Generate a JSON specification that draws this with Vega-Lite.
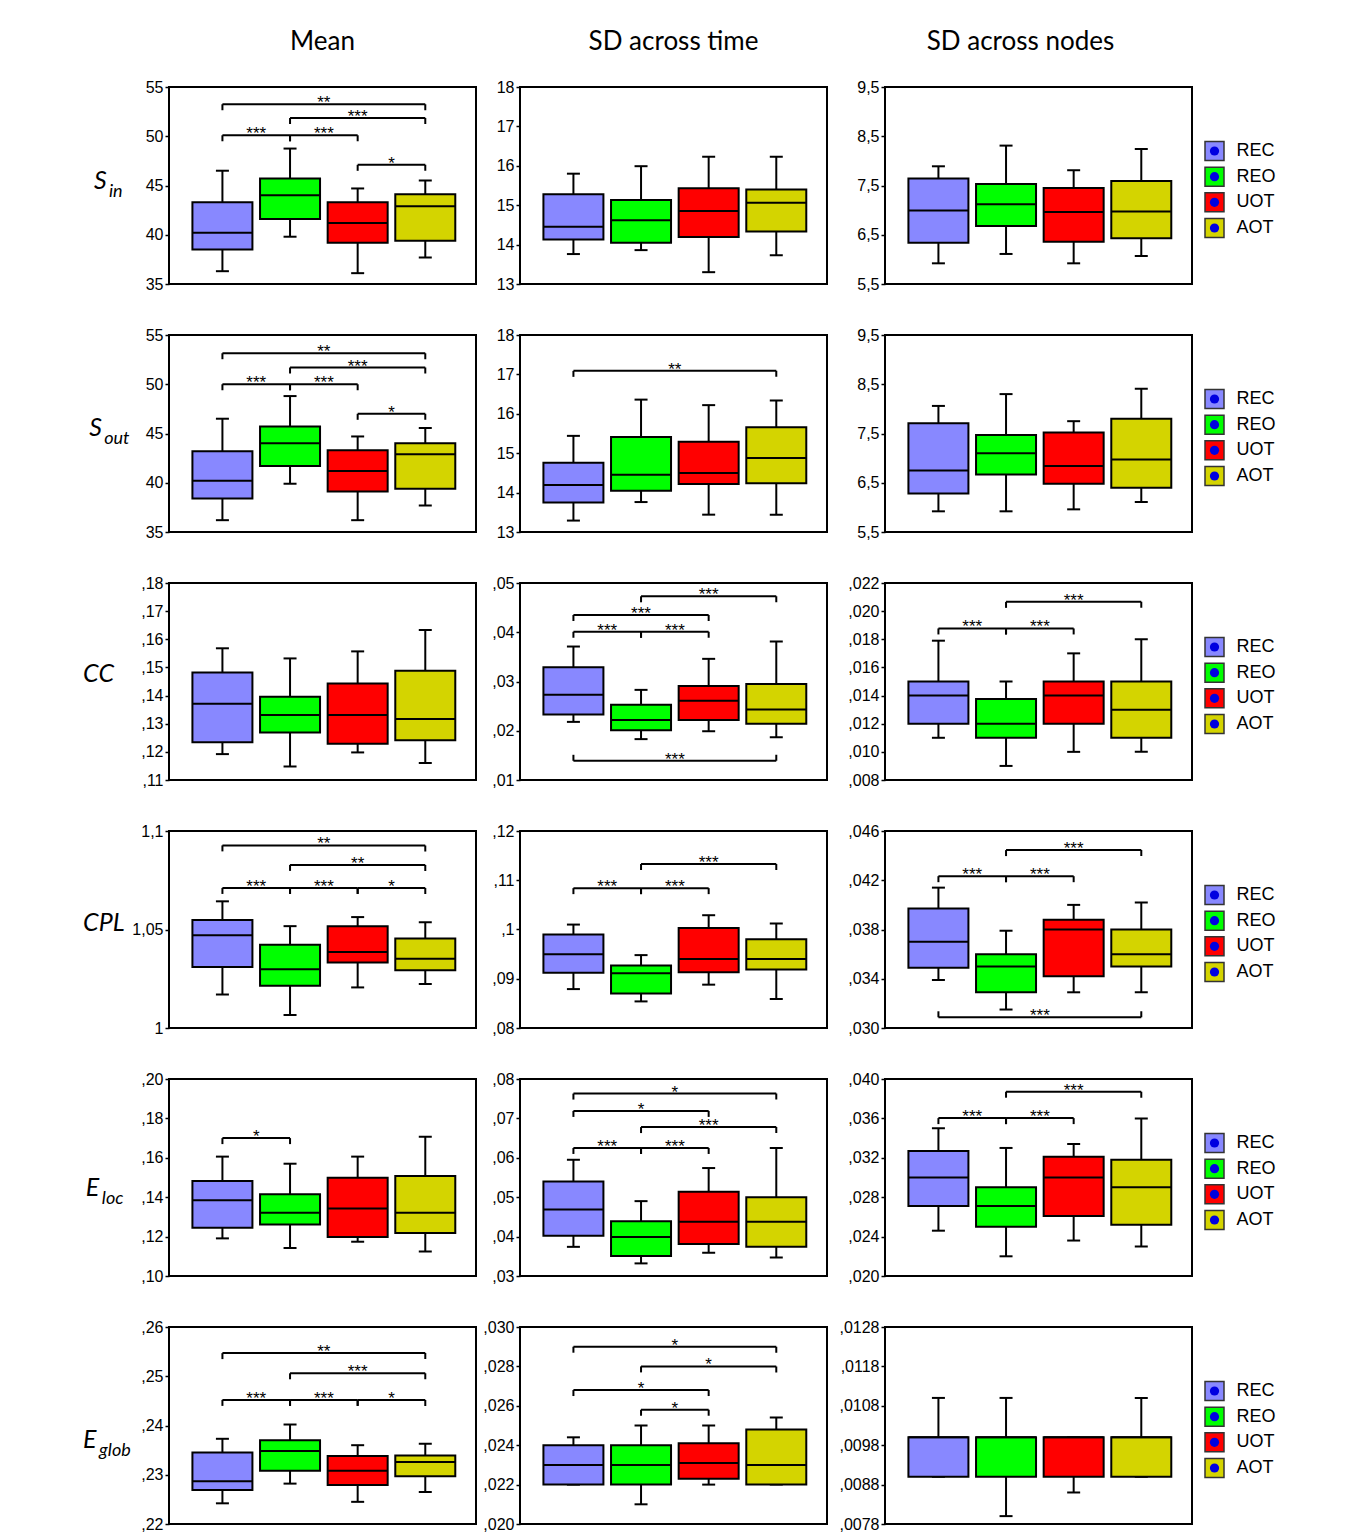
{
  "$schema": "https://vega.github.io/schema/vega-lite/v6.json",
  "background": "white",
  "padding": {"left": 82, "top": 28, "right": 5, "bottom": 5},
  "datasets": {
    "boxes": [
      {"p":"A1","g":"REC","i":1,"lo":36.3,"q1":38.5,"md":40.2,"q3":43.3,"hi":46.5},
      {"p":"A1","g":"REO","i":2,"lo":39.8,"q1":41.6,"md":44.0,"q3":45.7,"hi":48.75},
      {"p":"A1","g":"UOT","i":3,"lo":36.1,"q1":39.2,"md":41.2,"q3":43.3,"hi":44.7},
      {"p":"A1","g":"AOT","i":4,"lo":37.7,"q1":39.4,"md":42.9,"q3":44.1,"hi":45.5},
      {"p":"A2","g":"REC","i":1,"lo":13.76,"q1":14.13,"md":14.45,"q3":15.28,"hi":15.8},
      {"p":"A2","g":"REO","i":2,"lo":13.86,"q1":14.05,"md":14.62,"q3":15.13,"hi":15.99},
      {"p":"A2","g":"UOT","i":3,"lo":13.3,"q1":14.19,"md":14.85,"q3":15.43,"hi":16.23},
      {"p":"A2","g":"AOT","i":4,"lo":13.73,"q1":14.33,"md":15.06,"q3":15.4,"hi":16.23},
      {"p":"A3","g":"REC","i":1,"lo":5.92,"q1":6.34,"md":6.99,"q3":7.64,"hi":7.89},
      {"p":"A3","g":"REO","i":2,"lo":6.11,"q1":6.68,"md":7.12,"q3":7.53,"hi":8.31},
      {"p":"A3","g":"UOT","i":3,"lo":5.92,"q1":6.36,"md":6.96,"q3":7.45,"hi":7.81},
      {"p":"A3","g":"AOT","i":4,"lo":6.07,"q1":6.43,"md":6.97,"q3":7.59,"hi":8.24},
      {"p":"B1","g":"REC","i":1,"lo":36.2,"q1":38.4,"md":40.2,"q3":43.2,"hi":46.5},
      {"p":"B1","g":"REO","i":2,"lo":39.9,"q1":41.7,"md":44.0,"q3":45.7,"hi":48.8},
      {"p":"B1","g":"UOT","i":3,"lo":36.2,"q1":39.1,"md":41.2,"q3":43.3,"hi":44.7},
      {"p":"B1","g":"AOT","i":4,"lo":37.7,"q1":39.4,"md":42.9,"q3":44.0,"hi":45.55},
      {"p":"B2","g":"REC","i":1,"lo":13.29,"q1":13.75,"md":14.19,"q3":14.76,"hi":15.44},
      {"p":"B2","g":"REO","i":2,"lo":13.76,"q1":14.05,"md":14.45,"q3":15.41,"hi":16.36},
      {"p":"B2","g":"UOT","i":3,"lo":13.44,"q1":14.22,"md":14.5,"q3":15.29,"hi":16.22},
      {"p":"B2","g":"AOT","i":4,"lo":13.44,"q1":14.24,"md":14.88,"q3":15.66,"hi":16.34},
      {"p":"B3","g":"REC","i":1,"lo":5.92,"q1":6.28,"md":6.75,"q3":7.71,"hi":8.06},
      {"p":"B3","g":"REO","i":2,"lo":5.92,"q1":6.67,"md":7.1,"q3":7.47,"hi":8.3},
      {"p":"B3","g":"UOT","i":3,"lo":5.96,"q1":6.48,"md":6.84,"q3":7.52,"hi":7.75},
      {"p":"B3","g":"AOT","i":4,"lo":6.11,"q1":6.4,"md":6.97,"q3":7.8,"hi":8.41},
      {"p":"C1","g":"REC","i":1,"lo":0.1192,"q1":0.1234,"md":0.1371,"q3":0.1482,"hi":0.1568},
      {"p":"C1","g":"REO","i":2,"lo":0.1148,"q1":0.1269,"md":0.1331,"q3":0.1396,"hi":0.1532},
      {"p":"C1","g":"UOT","i":3,"lo":0.1198,"q1":0.1229,"md":0.1331,"q3":0.1443,"hi":0.1557},
      {"p":"C1","g":"AOT","i":4,"lo":0.116,"q1":0.1241,"md":0.1317,"q3":0.1488,"hi":0.1633},
      {"p":"C2","g":"REC","i":1,"lo":0.0218,"q1":0.0233,"md":0.0273,"q3":0.0329,"hi":0.0371},
      {"p":"C2","g":"REO","i":2,"lo":0.0183,"q1":0.0201,"md":0.0222,"q3":0.0253,"hi":0.0283},
      {"p":"C2","g":"UOT","i":3,"lo":0.0199,"q1":0.0222,"md":0.0261,"q3":0.0291,"hi":0.0346},
      {"p":"C2","g":"AOT","i":4,"lo":0.0187,"q1":0.0214,"md":0.0243,"q3":0.0295,"hi":0.0381},
      {"p":"C3","g":"REC","i":1,"lo":0.011,"q1":0.012,"md":0.014,"q3":0.015,"hi":0.0179},
      {"p":"C3","g":"REO","i":2,"lo":0.009,"q1":0.011,"md":0.012,"q3":0.01375,"hi":0.015},
      {"p":"C3","g":"UOT","i":3,"lo":0.010,"q1":0.012,"md":0.014,"q3":0.015,"hi":0.017},
      {"p":"C3","g":"AOT","i":4,"lo":0.010,"q1":0.011,"md":0.013,"q3":0.015,"hi":0.018},
      {"p":"D1","g":"REC","i":1,"lo":1.017,"q1":1.031,"md":1.0471,"q3":1.0548,"hi":1.0643},
      {"p":"D1","g":"REO","i":2,"lo":1.0066,"q1":1.0214,"md":1.0298,"q3":1.0422,"hi":1.0517},
      {"p":"D1","g":"UOT","i":3,"lo":1.0206,"q1":1.0333,"md":1.0386,"q3":1.0517,"hi":1.0563},
      {"p":"D1","g":"AOT","i":4,"lo":1.0223,"q1":1.0293,"md":1.0352,"q3":1.0454,"hi":1.0537},
      {"p":"D2","g":"REC","i":1,"lo":0.0879,"q1":0.0912,"md":0.095,"q3":0.099,"hi":0.101},
      {"p":"D2","g":"REO","i":2,"lo":0.0854,"q1":0.087,"md":0.0911,"q3":0.0927,"hi":0.0948},
      {"p":"D2","g":"UOT","i":3,"lo":0.0888,"q1":0.0913,"md":0.094,"q3":0.1003,"hi":0.1029},
      {"p":"D2","g":"AOT","i":4,"lo":0.0859,"q1":0.0919,"md":0.094,"q3":0.098,"hi":0.1012},
      {"p":"D3","g":"REC","i":1,"lo":0.0339,"q1":0.0349,"md":0.037,"q3":0.0397,"hi":0.0414},
      {"p":"D3","g":"REO","i":2,"lo":0.0315,"q1":0.0329,"md":0.035,"q3":0.036,"hi":0.0379},
      {"p":"D3","g":"UOT","i":3,"lo":0.0329,"q1":0.0342,"md":0.038,"q3":0.0388,"hi":0.040},
      {"p":"D3","g":"AOT","i":4,"lo":0.0329,"q1":0.035,"md":0.036,"q3":0.038,"hi":0.0402},
      {"p":"E1","g":"REC","i":1,"lo":0.1191,"q1":0.1245,"md":0.1384,"q3":0.1482,"hi":0.1606},
      {"p":"E1","g":"REO","i":2,"lo":0.1142,"q1":0.1262,"md":0.1321,"q3":0.1415,"hi":0.157},
      {"p":"E1","g":"UOT","i":3,"lo":0.1174,"q1":0.1198,"md":0.1343,"q3":0.1499,"hi":0.1606},
      {"p":"E1","g":"AOT","i":4,"lo":0.1124,"q1":0.1218,"md":0.1321,"q3":0.1508,"hi":0.1707},
      {"p":"E2","g":"REC","i":1,"lo":0.0374,"q1":0.0402,"md":0.0469,"q3":0.054,"hi":0.0595},
      {"p":"E2","g":"REO","i":2,"lo":0.0332,"q1":0.0351,"md":0.0399,"q3":0.0439,"hi":0.049},
      {"p":"E2","g":"UOT","i":3,"lo":0.0359,"q1":0.0381,"md":0.0438,"q3":0.0514,"hi":0.0574},
      {"p":"E2","g":"AOT","i":4,"lo":0.0347,"q1":0.0374,"md":0.0438,"q3":0.050,"hi":0.0625},
      {"p":"E3","g":"REC","i":1,"lo":0.0246,"q1":0.0271,"md":0.030,"q3":0.0327,"hi":0.035},
      {"p":"E3","g":"REO","i":2,"lo":0.022,"q1":0.025,"md":0.0271,"q3":0.029,"hi":0.033},
      {"p":"E3","g":"UOT","i":3,"lo":0.0236,"q1":0.0261,"md":0.030,"q3":0.0321,"hi":0.0334},
      {"p":"E3","g":"AOT","i":4,"lo":0.023,"q1":0.0252,"md":0.029,"q3":0.0318,"hi":0.036},
      {"p":"F1","g":"REC","i":1,"lo":0.2242,"q1":0.2269,"md":0.2287,"q3":0.2345,"hi":0.2373},
      {"p":"F1","g":"REO","i":2,"lo":0.2282,"q1":0.2308,"md":0.2348,"q3":0.237,"hi":0.2402},
      {"p":"F1","g":"UOT","i":3,"lo":0.2245,"q1":0.2279,"md":0.2308,"q3":0.2338,"hi":0.236},
      {"p":"F1","g":"AOT","i":4,"lo":0.2265,"q1":0.2297,"md":0.2326,"q3":0.2339,"hi":0.2363},
      {"p":"F2","g":"REC","i":1,"lo":0.022,"q1":0.022,"md":0.023,"q3":0.024,"hi":0.0244},
      {"p":"F2","g":"REO","i":2,"lo":0.021,"q1":0.022,"md":0.023,"q3":0.024,"hi":0.025},
      {"p":"F2","g":"UOT","i":3,"lo":0.022,"q1":0.0223,"md":0.0231,"q3":0.0241,"hi":0.025},
      {"p":"F2","g":"AOT","i":4,"lo":0.022,"q1":0.022,"md":0.023,"q3":0.0248,"hi":0.0254},
      {"p":"F3","g":"REC","i":1,"lo":0.009,"q1":0.009,"md":0.010,"q3":0.010,"hi":0.011},
      {"p":"F3","g":"REO","i":2,"lo":0.008,"q1":0.009,"md":0.010,"q3":0.010,"hi":0.011},
      {"p":"F3","g":"UOT","i":3,"lo":0.0086,"q1":0.009,"md":0.010,"q3":0.010,"hi":0.010},
      {"p":"F3","g":"AOT","i":4,"lo":0.009,"q1":0.009,"md":0.010,"q3":0.010,"hi":0.011}
    ],
    "brackets": [
      {"p":"A1","a":1,"b":4,"m":2.5,"y":53.25,"s":"**"},
      {"p":"A1","a":2,"b":4,"m":3,"y":51.85,"s":"***"},
      {"p":"A1","a":1,"b":2,"m":1.5,"y":50.1,"s":"***"},
      {"p":"A1","a":2,"b":3,"m":2.5,"y":50.1,"s":"***"},
      {"p":"A1","a":3,"b":4,"m":3.5,"y":47.1,"s":"*"},
      {"p":"B1","a":1,"b":4,"m":2.5,"y":53.15,"s":"**"},
      {"p":"B1","a":2,"b":4,"m":3,"y":51.7,"s":"***"},
      {"p":"B1","a":1,"b":2,"m":1.5,"y":50.0,"s":"***"},
      {"p":"B1","a":2,"b":3,"m":2.5,"y":50.0,"s":"***"},
      {"p":"B1","a":3,"b":4,"m":3.5,"y":47.0,"s":"*"},
      {"p":"B2","a":1,"b":4,"m":2.5,"y":17.09,"s":"**"},
      {"p":"C2","a":2,"b":4,"m":3,"y":0.0473,"s":"***"},
      {"p":"C2","a":1,"b":3,"m":2,"y":0.0435,"s":"***"},
      {"p":"C2","a":1,"b":2,"m":1.5,"y":0.0401,"s":"***"},
      {"p":"C2","a":2,"b":3,"m":2.5,"y":0.0401,"s":"***"},
      {"p":"C2","a":1,"b":4,"m":2.5,"y":0.0139,"s":"***","u":true},
      {"p":"C3","a":2,"b":4,"m":3,"y":0.02066,"s":"***"},
      {"p":"C3","a":1,"b":2,"m":1.5,"y":0.01877,"s":"***"},
      {"p":"C3","a":2,"b":3,"m":2.5,"y":0.01877,"s":"***"},
      {"p":"D1","a":1,"b":4,"m":2.5,"y":1.0927,"s":"**"},
      {"p":"D1","a":2,"b":4,"m":3,"y":1.0828,"s":"**"},
      {"p":"D1","a":1,"b":2,"m":1.5,"y":1.0711,"s":"***"},
      {"p":"D1","a":2,"b":3,"m":2.5,"y":1.0711,"s":"***"},
      {"p":"D1","a":3,"b":4,"m":3.5,"y":1.0711,"s":"*"},
      {"p":"D2","a":2,"b":4,"m":3,"y":0.1133,"s":"***"},
      {"p":"D2","a":1,"b":2,"m":1.5,"y":0.1084,"s":"***"},
      {"p":"D2","a":2,"b":3,"m":2.5,"y":0.1084,"s":"***"},
      {"p":"D3","a":2,"b":4,"m":3,"y":0.04445,"s":"***"},
      {"p":"D3","a":1,"b":2,"m":1.5,"y":0.04233,"s":"***"},
      {"p":"D3","a":2,"b":3,"m":2.5,"y":0.04233,"s":"***"},
      {"p":"D3","a":1,"b":4,"m":2.5,"y":0.03087,"s":"***","u":true},
      {"p":"E1","a":1,"b":2,"m":1.5,"y":0.170,"s":"*"},
      {"p":"E2","a":1,"b":4,"m":2.5,"y":0.0763,"s":"*"},
      {"p":"E2","a":1,"b":3,"m":2,"y":0.0719,"s":"*"},
      {"p":"E2","a":2,"b":4,"m":3,"y":0.0678,"s":"***"},
      {"p":"E2","a":1,"b":2,"m":1.5,"y":0.0625,"s":"***"},
      {"p":"E2","a":2,"b":3,"m":2.5,"y":0.0625,"s":"***"},
      {"p":"E3","a":2,"b":4,"m":3,"y":0.03871,"s":"***"},
      {"p":"E3","a":1,"b":2,"m":1.5,"y":0.03603,"s":"***"},
      {"p":"E3","a":2,"b":3,"m":2.5,"y":0.03603,"s":"***"},
      {"p":"F1","a":1,"b":4,"m":2.5,"y":0.2547,"s":"**"},
      {"p":"F1","a":2,"b":4,"m":3,"y":0.2506,"s":"***"},
      {"p":"F1","a":1,"b":2,"m":1.5,"y":0.2452,"s":"***"},
      {"p":"F1","a":2,"b":3,"m":2.5,"y":0.2452,"s":"***"},
      {"p":"F1","a":3,"b":4,"m":3.5,"y":0.2452,"s":"*"},
      {"p":"F2","a":1,"b":4,"m":2.5,"y":0.0290,"s":"*"},
      {"p":"F2","a":2,"b":4,"m":3,"y":0.0280,"s":"*"},
      {"p":"F2","a":1,"b":3,"m":2,"y":0.0268,"s":"*"},
      {"p":"F2","a":2,"b":3,"m":2.5,"y":0.0258,"s":"*"}
    ],
    "rowlabels": [
      {"p":"A","main":"S","sub":"in"},
      {"p":"B","main":"S","sub":"out"},
      {"p":"C","main":"CC"},
      {"p":"D","main":"CPL"},
      {"p":"E","main":"E","sub":"loc"},
      {"p":"F","main":"E","sub":"glob"}
    ],
    "groups": [{"g":"REC"},{"g":"REO"},{"g":"UOT"},{"g":"AOT"}]
  },
  "columns": 4,
  "align": "each",
  "bounds": "full",
  "spacing": {"row": 33, "column": 4},
  "concat": [
    {"width":307,"height":197,"title":{"text":"Mean"},"layer":[
      {"data":{"name":"boxes"},"transform":[{"filter":"datum.p=='A1'"}],"encoding":{"x":{"field":"i","type":"quantitative","scale":{"domain":[0.21,4.75],"nice":false,"zero":false,"padding":0}}},"layer":[
        {"mark":"rule","encoding":{"y":{"field":"lo","type":"quantitative","scale":{"domain":[35,55],"nice":false,"zero":false},"axis":{"title":null,"values":[35,40,45,50,55],"format":"d"}},"y2":{"field":"hi"}}},
        {"transform":[{"fold":["lo","hi"]}],"mark":{"type":"tick","orient":"horizontal","size":13},"encoding":{"y":{"field":"value","type":"quantitative"}}},
        {"mark":"bar","encoding":{"y":{"field":"q1","type":"quantitative"},"y2":{"field":"q3"},"color":{"field":"g","type":"nominal"}}},
        {"mark":{"type":"tick","orient":"horizontal","size":60},"encoding":{"y":{"field":"md","type":"quantitative"}}}
      ]},
      {"data":{"name":"brackets"},"transform":[{"filter":"datum.p=='A1'"}],"layer":[
        {"mark":"rule","encoding":{"x":{"field":"a","type":"quantitative"},"x2":{"field":"b"},"y":{"field":"y","type":"quantitative"}}},
        {"transform":[{"fold":["a","b"]}],"mark":{"type":"tick","orient":"vertical","size":6,"yOffset":3},"encoding":{"x":{"field":"value","type":"quantitative"},"y":{"field":"y","type":"quantitative"}}},
        {"mark":{"type":"text","baseline":"alphabetic","dy":4},"encoding":{"x":{"field":"m","type":"quantitative"},"y":{"field":"y","type":"quantitative"},"text":{"field":"s"}}}
      ]},
      {"data":{"name":"rowlabels"},"transform":[{"filter":"datum.p=='A'"}],"encoding":{"x":{"datum":-0.9},"y":{"datum":44.64}},"layer":[
        {"mark":{"type":"text","font":"Lato","fontStyle":"italic","fontSize":25,"align":"left","baseline":"alphabetic"},"encoding":{"text":{"field":"main"}}},
        {"mark":{"type":"text","font":"Lato","fontStyle":"italic","fontSize":18,"align":"left","baseline":"alphabetic","dx":15,"dy":8},"encoding":{"text":{"field":"sub"}}}
      ]}
    ]},
    {"width":307,"height":197,"title":{"text":"SD across time"},"layer":[
      {"data":{"name":"boxes"},"transform":[{"filter":"datum.p=='A2'"}],"encoding":{"x":{"field":"i","type":"quantitative","scale":{"domain":[0.21,4.75],"nice":false,"zero":false,"padding":0}}},"layer":[
        {"mark":"rule","encoding":{"y":{"field":"lo","type":"quantitative","scale":{"domain":[13,18],"nice":false,"zero":false},"axis":{"title":null,"values":[13,14,15,16,17,18],"format":"d","minExtent":38}},"y2":{"field":"hi"}}},
        {"transform":[{"fold":["lo","hi"]}],"mark":{"type":"tick","orient":"horizontal","size":13},"encoding":{"y":{"field":"value","type":"quantitative"}}},
        {"mark":"bar","encoding":{"y":{"field":"q1","type":"quantitative"},"y2":{"field":"q3"},"color":{"field":"g","type":"nominal"}}},
        {"mark":{"type":"tick","orient":"horizontal","size":60},"encoding":{"y":{"field":"md","type":"quantitative"}}}
      ]}
    ]},
    {"width":307,"height":197,"title":{"text":"SD across nodes","dx":-18},"layer":[
      {"data":{"name":"boxes"},"transform":[{"filter":"datum.p=='A3'"}],"encoding":{"x":{"field":"i","type":"quantitative","scale":{"domain":[0.21,4.75],"nice":false,"zero":false,"padding":0}}},"layer":[
        {"mark":"rule","encoding":{"y":{"field":"lo","type":"quantitative","scale":{"domain":[5.5,9.5],"nice":false,"zero":false},"axis":{"title":null,"values":[5.5,6.5,7.5,8.5,9.5],"labelExpr":"replace(format(datum.value,'.1f'),'.',',')","minExtent":52}},"y2":{"field":"hi"}}},
        {"transform":[{"fold":["lo","hi"]}],"mark":{"type":"tick","orient":"horizontal","size":13},"encoding":{"y":{"field":"value","type":"quantitative"}}},
        {"mark":"bar","encoding":{"y":{"field":"q1","type":"quantitative"},"y2":{"field":"q3"},"color":{"field":"g","type":"nominal"}}},
        {"mark":{"type":"tick","orient":"horizontal","size":60},"encoding":{"y":{"field":"md","type":"quantitative"}}}
      ]}
    ]},
    {"width":35,"height":197,"view":{"stroke":null},"data":{"name":"groups"},"encoding":{"y":{"field":"g","type":"nominal","scale":{"type":"point","domain":["REC","REO","UOT","AOT"],"range":[64,141],"padding":0},"axis":null}},"layer":[
      {"mark":{"type":"square","size":361,"stroke":"#333333","strokeWidth":1.5},"encoding":{"color":{"field":"g","type":"nominal"}}},
      {"mark":{"type":"circle","size":85,"color":"#0000e0"}},
      {"mark":{"type":"text","align":"left","baseline":"middle","dx":22,"fontSize":18},"encoding":{"text":{"field":"g"}}}
    ]},

    {"width":307,"height":197,"layer":[
      {"data":{"name":"boxes"},"transform":[{"filter":"datum.p=='B1'"}],"encoding":{"x":{"field":"i","type":"quantitative","scale":{"domain":[0.21,4.75],"nice":false,"zero":false,"padding":0}}},"layer":[
        {"mark":"rule","encoding":{"y":{"field":"lo","type":"quantitative","scale":{"domain":[35,55],"nice":false,"zero":false},"axis":{"title":null,"values":[35,40,45,50,55],"format":"d"}},"y2":{"field":"hi"}}},
        {"transform":[{"fold":["lo","hi"]}],"mark":{"type":"tick","orient":"horizontal","size":13},"encoding":{"y":{"field":"value","type":"quantitative"}}},
        {"mark":"bar","encoding":{"y":{"field":"q1","type":"quantitative"},"y2":{"field":"q3"},"color":{"field":"g","type":"nominal"}}},
        {"mark":{"type":"tick","orient":"horizontal","size":60},"encoding":{"y":{"field":"md","type":"quantitative"}}}
      ]},
      {"data":{"name":"brackets"},"transform":[{"filter":"datum.p=='B1'"}],"layer":[
        {"mark":"rule","encoding":{"x":{"field":"a","type":"quantitative"},"x2":{"field":"b"},"y":{"field":"y","type":"quantitative"}}},
        {"transform":[{"fold":["a","b"]}],"mark":{"type":"tick","orient":"vertical","size":6,"yOffset":3},"encoding":{"x":{"field":"value","type":"quantitative"},"y":{"field":"y","type":"quantitative"}}},
        {"mark":{"type":"text","baseline":"alphabetic","dy":4},"encoding":{"x":{"field":"m","type":"quantitative"},"y":{"field":"y","type":"quantitative"},"text":{"field":"s"}}}
      ]},
      {"data":{"name":"rowlabels"},"transform":[{"filter":"datum.p=='B'"}],"encoding":{"x":{"datum":-0.97},"y":{"datum":44.75}},"layer":[
        {"mark":{"type":"text","font":"Lato","fontStyle":"italic","fontSize":25,"align":"left","baseline":"alphabetic"},"encoding":{"text":{"field":"main"}}},
        {"mark":{"type":"text","font":"Lato","fontStyle":"italic","fontSize":18,"align":"left","baseline":"alphabetic","dx":15,"dy":8},"encoding":{"text":{"field":"sub"}}}
      ]}
    ]},
    {"width":307,"height":197,"layer":[
      {"data":{"name":"boxes"},"transform":[{"filter":"datum.p=='B2'"}],"encoding":{"x":{"field":"i","type":"quantitative","scale":{"domain":[0.21,4.75],"nice":false,"zero":false,"padding":0}}},"layer":[
        {"mark":"rule","encoding":{"y":{"field":"lo","type":"quantitative","scale":{"domain":[13,18],"nice":false,"zero":false},"axis":{"title":null,"values":[13,14,15,16,17,18],"format":"d","minExtent":38}},"y2":{"field":"hi"}}},
        {"transform":[{"fold":["lo","hi"]}],"mark":{"type":"tick","orient":"horizontal","size":13},"encoding":{"y":{"field":"value","type":"quantitative"}}},
        {"mark":"bar","encoding":{"y":{"field":"q1","type":"quantitative"},"y2":{"field":"q3"},"color":{"field":"g","type":"nominal"}}},
        {"mark":{"type":"tick","orient":"horizontal","size":60},"encoding":{"y":{"field":"md","type":"quantitative"}}}
      ]},
      {"data":{"name":"brackets"},"transform":[{"filter":"datum.p=='B2'"}],"layer":[
        {"mark":"rule","encoding":{"x":{"field":"a","type":"quantitative"},"x2":{"field":"b"},"y":{"field":"y","type":"quantitative"}}},
        {"transform":[{"fold":["a","b"]}],"mark":{"type":"tick","orient":"vertical","size":6,"yOffset":3},"encoding":{"x":{"field":"value","type":"quantitative"},"y":{"field":"y","type":"quantitative"}}},
        {"mark":{"type":"text","baseline":"alphabetic","dy":4},"encoding":{"x":{"field":"m","type":"quantitative"},"y":{"field":"y","type":"quantitative"},"text":{"field":"s"}}}
      ]}
    ]},
    {"width":307,"height":197,"layer":[
      {"data":{"name":"boxes"},"transform":[{"filter":"datum.p=='B3'"}],"encoding":{"x":{"field":"i","type":"quantitative","scale":{"domain":[0.21,4.75],"nice":false,"zero":false,"padding":0}}},"layer":[
        {"mark":"rule","encoding":{"y":{"field":"lo","type":"quantitative","scale":{"domain":[5.5,9.5],"nice":false,"zero":false},"axis":{"title":null,"values":[5.5,6.5,7.5,8.5,9.5],"labelExpr":"replace(format(datum.value,'.1f'),'.',',')","minExtent":52}},"y2":{"field":"hi"}}},
        {"transform":[{"fold":["lo","hi"]}],"mark":{"type":"tick","orient":"horizontal","size":13},"encoding":{"y":{"field":"value","type":"quantitative"}}},
        {"mark":"bar","encoding":{"y":{"field":"q1","type":"quantitative"},"y2":{"field":"q3"},"color":{"field":"g","type":"nominal"}}},
        {"mark":{"type":"tick","orient":"horizontal","size":60},"encoding":{"y":{"field":"md","type":"quantitative"}}}
      ]}
    ]},
    {"width":35,"height":197,"view":{"stroke":null},"data":{"name":"groups"},"encoding":{"y":{"field":"g","type":"nominal","scale":{"type":"point","domain":["REC","REO","UOT","AOT"],"range":[64,141],"padding":0},"axis":null}},"layer":[
      {"mark":{"type":"square","size":361,"stroke":"#333333","strokeWidth":1.5},"encoding":{"color":{"field":"g","type":"nominal"}}},
      {"mark":{"type":"circle","size":85,"color":"#0000e0"}},
      {"mark":{"type":"text","align":"left","baseline":"middle","dx":22,"fontSize":18},"encoding":{"text":{"field":"g"}}}
    ]},

    {"width":307,"height":197,"layer":[
      {"data":{"name":"boxes"},"transform":[{"filter":"datum.p=='C1'"}],"encoding":{"x":{"field":"i","type":"quantitative","scale":{"domain":[0.21,4.75],"nice":false,"zero":false,"padding":0}}},"layer":[
        {"mark":"rule","encoding":{"y":{"field":"lo","type":"quantitative","scale":{"domain":[0.11,0.18],"nice":false,"zero":false},"axis":{"title":null,"values":[0.11,0.12,0.13,0.14,0.15,0.16,0.17,0.18],"labelExpr":"replace(format(datum.value,'.2f'),'0.',',')"}},"y2":{"field":"hi"}}},
        {"transform":[{"fold":["lo","hi"]}],"mark":{"type":"tick","orient":"horizontal","size":13},"encoding":{"y":{"field":"value","type":"quantitative"}}},
        {"mark":"bar","encoding":{"y":{"field":"q1","type":"quantitative"},"y2":{"field":"q3"},"color":{"field":"g","type":"nominal"}}},
        {"mark":{"type":"tick","orient":"horizontal","size":60},"encoding":{"y":{"field":"md","type":"quantitative"}}}
      ]},
      {"data":{"name":"rowlabels"},"transform":[{"filter":"datum.p=='C'"}],"encoding":{"x":{"datum":-1.06},"y":{"datum":0.1448}},"layer":[
        {"mark":{"type":"text","font":"Lato","fontStyle":"italic","fontSize":25,"align":"left","baseline":"alphabetic"},"encoding":{"text":{"field":"main"}}}
      ]}
    ]},
    {"width":307,"height":197,"layer":[
      {"data":{"name":"boxes"},"transform":[{"filter":"datum.p=='C2'"}],"encoding":{"x":{"field":"i","type":"quantitative","scale":{"domain":[0.21,4.75],"nice":false,"zero":false,"padding":0}}},"layer":[
        {"mark":"rule","encoding":{"y":{"field":"lo","type":"quantitative","scale":{"domain":[0.01,0.05],"nice":false,"zero":false},"axis":{"title":null,"values":[0.01,0.02,0.03,0.04,0.05],"labelExpr":"replace(format(datum.value,'.2f'),'0.',',')","minExtent":38}},"y2":{"field":"hi"}}},
        {"transform":[{"fold":["lo","hi"]}],"mark":{"type":"tick","orient":"horizontal","size":13},"encoding":{"y":{"field":"value","type":"quantitative"}}},
        {"mark":"bar","encoding":{"y":{"field":"q1","type":"quantitative"},"y2":{"field":"q3"},"color":{"field":"g","type":"nominal"}}},
        {"mark":{"type":"tick","orient":"horizontal","size":60},"encoding":{"y":{"field":"md","type":"quantitative"}}}
      ]},
      {"data":{"name":"brackets"},"transform":[{"filter":"datum.p=='C2'"}],"layer":[
        {"mark":"rule","encoding":{"x":{"field":"a","type":"quantitative"},"x2":{"field":"b"},"y":{"field":"y","type":"quantitative"}}},
        {"transform":[{"filter":"!datum.u"},{"fold":["a","b"]}],"mark":{"type":"tick","orient":"vertical","size":6,"yOffset":3},"encoding":{"x":{"field":"value","type":"quantitative"},"y":{"field":"y","type":"quantitative"}}},
        {"transform":[{"filter":"datum.u"},{"fold":["a","b"]}],"mark":{"type":"tick","orient":"vertical","size":6,"yOffset":-3},"encoding":{"x":{"field":"value","type":"quantitative"},"y":{"field":"y","type":"quantitative"}}},
        {"mark":{"type":"text","baseline":"alphabetic","dy":4},"encoding":{"x":{"field":"m","type":"quantitative"},"y":{"field":"y","type":"quantitative"},"text":{"field":"s"}}}
      ]}
    ]},
    {"width":307,"height":197,"layer":[
      {"data":{"name":"boxes"},"transform":[{"filter":"datum.p=='C3'"}],"encoding":{"x":{"field":"i","type":"quantitative","scale":{"domain":[0.21,4.75],"nice":false,"zero":false,"padding":0}}},"layer":[
        {"mark":"rule","encoding":{"y":{"field":"lo","type":"quantitative","scale":{"domain":[0.008,0.022],"nice":false,"zero":false},"axis":{"title":null,"values":[0.008,0.01,0.012,0.014,0.016,0.018,0.02,0.022],"labelExpr":"replace(format(datum.value,'.3f'),'0.',',')","minExtent":52}},"y2":{"field":"hi"}}},
        {"transform":[{"fold":["lo","hi"]}],"mark":{"type":"tick","orient":"horizontal","size":13},"encoding":{"y":{"field":"value","type":"quantitative"}}},
        {"mark":"bar","encoding":{"y":{"field":"q1","type":"quantitative"},"y2":{"field":"q3"},"color":{"field":"g","type":"nominal"}}},
        {"mark":{"type":"tick","orient":"horizontal","size":60},"encoding":{"y":{"field":"md","type":"quantitative"}}}
      ]},
      {"data":{"name":"brackets"},"transform":[{"filter":"datum.p=='C3'"}],"layer":[
        {"mark":"rule","encoding":{"x":{"field":"a","type":"quantitative"},"x2":{"field":"b"},"y":{"field":"y","type":"quantitative"}}},
        {"transform":[{"fold":["a","b"]}],"mark":{"type":"tick","orient":"vertical","size":6,"yOffset":3},"encoding":{"x":{"field":"value","type":"quantitative"},"y":{"field":"y","type":"quantitative"}}},
        {"mark":{"type":"text","baseline":"alphabetic","dy":4},"encoding":{"x":{"field":"m","type":"quantitative"},"y":{"field":"y","type":"quantitative"},"text":{"field":"s"}}}
      ]}
    ]},
    {"width":35,"height":197,"view":{"stroke":null},"data":{"name":"groups"},"encoding":{"y":{"field":"g","type":"nominal","scale":{"type":"point","domain":["REC","REO","UOT","AOT"],"range":[64,141],"padding":0},"axis":null}},"layer":[
      {"mark":{"type":"square","size":361,"stroke":"#333333","strokeWidth":1.5},"encoding":{"color":{"field":"g","type":"nominal"}}},
      {"mark":{"type":"circle","size":85,"color":"#0000e0"}},
      {"mark":{"type":"text","align":"left","baseline":"middle","dx":22,"fontSize":18},"encoding":{"text":{"field":"g"}}}
    ]},

    {"width":307,"height":197,"layer":[
      {"data":{"name":"boxes"},"transform":[{"filter":"datum.p=='D1'"}],"encoding":{"x":{"field":"i","type":"quantitative","scale":{"domain":[0.21,4.75],"nice":false,"zero":false,"padding":0}}},"layer":[
        {"mark":"rule","encoding":{"y":{"field":"lo","type":"quantitative","scale":{"domain":[1,1.1],"nice":false,"zero":false},"axis":{"title":null,"values":[1,1.05,1.1],"labelExpr":"replace(format(datum.value,'~g'),'.',',')"}},"y2":{"field":"hi"}}},
        {"transform":[{"fold":["lo","hi"]}],"mark":{"type":"tick","orient":"horizontal","size":13},"encoding":{"y":{"field":"value","type":"quantitative"}}},
        {"mark":"bar","encoding":{"y":{"field":"q1","type":"quantitative"},"y2":{"field":"q3"},"color":{"field":"g","type":"nominal"}}},
        {"mark":{"type":"tick","orient":"horizontal","size":60},"encoding":{"y":{"field":"md","type":"quantitative"}}}
      ]},
      {"data":{"name":"brackets"},"transform":[{"filter":"datum.p=='D1'"}],"layer":[
        {"mark":"rule","encoding":{"x":{"field":"a","type":"quantitative"},"x2":{"field":"b"},"y":{"field":"y","type":"quantitative"}}},
        {"transform":[{"fold":["a","b"]}],"mark":{"type":"tick","orient":"vertical","size":6,"yOffset":3},"encoding":{"x":{"field":"value","type":"quantitative"},"y":{"field":"y","type":"quantitative"}}},
        {"mark":{"type":"text","baseline":"alphabetic","dy":4},"encoding":{"x":{"field":"m","type":"quantitative"},"y":{"field":"y","type":"quantitative"},"text":{"field":"s"}}}
      ]},
      {"data":{"name":"rowlabels"},"transform":[{"filter":"datum.p=='D'"}],"encoding":{"x":{"datum":-1.06},"y":{"datum":1.0492}},"layer":[
        {"mark":{"type":"text","font":"Lato","fontStyle":"italic","fontSize":25,"align":"left","baseline":"alphabetic"},"encoding":{"text":{"field":"main"}}}
      ]}
    ]},
    {"width":307,"height":197,"layer":[
      {"data":{"name":"boxes"},"transform":[{"filter":"datum.p=='D2'"}],"encoding":{"x":{"field":"i","type":"quantitative","scale":{"domain":[0.21,4.75],"nice":false,"zero":false,"padding":0}}},"layer":[
        {"mark":"rule","encoding":{"y":{"field":"lo","type":"quantitative","scale":{"domain":[0.08,0.12],"nice":false,"zero":false},"axis":{"title":null,"values":[0.08,0.09,0.1,0.11,0.12],"labelExpr":"replace(format(datum.value,'.2~f'),'0.',',')","minExtent":38}},"y2":{"field":"hi"}}},
        {"transform":[{"fold":["lo","hi"]}],"mark":{"type":"tick","orient":"horizontal","size":13},"encoding":{"y":{"field":"value","type":"quantitative"}}},
        {"mark":"bar","encoding":{"y":{"field":"q1","type":"quantitative"},"y2":{"field":"q3"},"color":{"field":"g","type":"nominal"}}},
        {"mark":{"type":"tick","orient":"horizontal","size":60},"encoding":{"y":{"field":"md","type":"quantitative"}}}
      ]},
      {"data":{"name":"brackets"},"transform":[{"filter":"datum.p=='D2'"}],"layer":[
        {"mark":"rule","encoding":{"x":{"field":"a","type":"quantitative"},"x2":{"field":"b"},"y":{"field":"y","type":"quantitative"}}},
        {"transform":[{"fold":["a","b"]}],"mark":{"type":"tick","orient":"vertical","size":6,"yOffset":3},"encoding":{"x":{"field":"value","type":"quantitative"},"y":{"field":"y","type":"quantitative"}}},
        {"mark":{"type":"text","baseline":"alphabetic","dy":4},"encoding":{"x":{"field":"m","type":"quantitative"},"y":{"field":"y","type":"quantitative"},"text":{"field":"s"}}}
      ]}
    ]},
    {"width":307,"height":197,"layer":[
      {"data":{"name":"boxes"},"transform":[{"filter":"datum.p=='D3'"}],"encoding":{"x":{"field":"i","type":"quantitative","scale":{"domain":[0.21,4.75],"nice":false,"zero":false,"padding":0}}},"layer":[
        {"mark":"rule","encoding":{"y":{"field":"lo","type":"quantitative","scale":{"domain":[0.03,0.046],"nice":false,"zero":false},"axis":{"title":null,"values":[0.03,0.034,0.038,0.042,0.046],"labelExpr":"replace(format(datum.value,'.3f'),'0.',',')","minExtent":52}},"y2":{"field":"hi"}}},
        {"transform":[{"fold":["lo","hi"]}],"mark":{"type":"tick","orient":"horizontal","size":13},"encoding":{"y":{"field":"value","type":"quantitative"}}},
        {"mark":"bar","encoding":{"y":{"field":"q1","type":"quantitative"},"y2":{"field":"q3"},"color":{"field":"g","type":"nominal"}}},
        {"mark":{"type":"tick","orient":"horizontal","size":60},"encoding":{"y":{"field":"md","type":"quantitative"}}}
      ]},
      {"data":{"name":"brackets"},"transform":[{"filter":"datum.p=='D3'"}],"layer":[
        {"mark":"rule","encoding":{"x":{"field":"a","type":"quantitative"},"x2":{"field":"b"},"y":{"field":"y","type":"quantitative"}}},
        {"transform":[{"filter":"!datum.u"},{"fold":["a","b"]}],"mark":{"type":"tick","orient":"vertical","size":6,"yOffset":3},"encoding":{"x":{"field":"value","type":"quantitative"},"y":{"field":"y","type":"quantitative"}}},
        {"transform":[{"filter":"datum.u"},{"fold":["a","b"]}],"mark":{"type":"tick","orient":"vertical","size":6,"yOffset":-3},"encoding":{"x":{"field":"value","type":"quantitative"},"y":{"field":"y","type":"quantitative"}}},
        {"mark":{"type":"text","baseline":"alphabetic","dy":4},"encoding":{"x":{"field":"m","type":"quantitative"},"y":{"field":"y","type":"quantitative"},"text":{"field":"s"}}}
      ]}
    ]},
    {"width":35,"height":197,"view":{"stroke":null},"data":{"name":"groups"},"encoding":{"y":{"field":"g","type":"nominal","scale":{"type":"point","domain":["REC","REO","UOT","AOT"],"range":[64,141],"padding":0},"axis":null}},"layer":[
      {"mark":{"type":"square","size":361,"stroke":"#333333","strokeWidth":1.5},"encoding":{"color":{"field":"g","type":"nominal"}}},
      {"mark":{"type":"circle","size":85,"color":"#0000e0"}},
      {"mark":{"type":"text","align":"left","baseline":"middle","dx":22,"fontSize":18},"encoding":{"text":{"field":"g"}}}
    ]},

    {"width":307,"height":197,"layer":[
      {"data":{"name":"boxes"},"transform":[{"filter":"datum.p=='E1'"}],"encoding":{"x":{"field":"i","type":"quantitative","scale":{"domain":[0.21,4.75],"nice":false,"zero":false,"padding":0}}},"layer":[
        {"mark":"rule","encoding":{"y":{"field":"lo","type":"quantitative","scale":{"domain":[0.1,0.2],"nice":false,"zero":false},"axis":{"title":null,"values":[0.1,0.12,0.14,0.16,0.18,0.2],"labelExpr":"replace(format(datum.value,'.2f'),'0.',',')"}},"y2":{"field":"hi"}}},
        {"transform":[{"fold":["lo","hi"]}],"mark":{"type":"tick","orient":"horizontal","size":13},"encoding":{"y":{"field":"value","type":"quantitative"}}},
        {"mark":"bar","encoding":{"y":{"field":"q1","type":"quantitative"},"y2":{"field":"q3"},"color":{"field":"g","type":"nominal"}}},
        {"mark":{"type":"tick","orient":"horizontal","size":60},"encoding":{"y":{"field":"md","type":"quantitative"}}}
      ]},
      {"data":{"name":"brackets"},"transform":[{"filter":"datum.p=='E1'"}],"layer":[
        {"mark":"rule","encoding":{"x":{"field":"a","type":"quantitative"},"x2":{"field":"b"},"y":{"field":"y","type":"quantitative"}}},
        {"transform":[{"fold":["a","b"]}],"mark":{"type":"tick","orient":"vertical","size":6,"yOffset":3},"encoding":{"x":{"field":"value","type":"quantitative"},"y":{"field":"y","type":"quantitative"}}},
        {"mark":{"type":"text","baseline":"alphabetic","dy":4},"encoding":{"x":{"field":"m","type":"quantitative"},"y":{"field":"y","type":"quantitative"},"text":{"field":"s"}}}
      ]},
      {"data":{"name":"rowlabels"},"transform":[{"filter":"datum.p=='E'"}],"encoding":{"x":{"datum":-1.02},"y":{"datum":0.1405}},"layer":[
        {"mark":{"type":"text","font":"Lato","fontStyle":"italic","fontSize":25,"align":"left","baseline":"alphabetic"},"encoding":{"text":{"field":"main"}}},
        {"mark":{"type":"text","font":"Lato","fontStyle":"italic","fontSize":18,"align":"left","baseline":"alphabetic","dx":16,"dy":8},"encoding":{"text":{"field":"sub"}}}
      ]}
    ]},
    {"width":307,"height":197,"layer":[
      {"data":{"name":"boxes"},"transform":[{"filter":"datum.p=='E2'"}],"encoding":{"x":{"field":"i","type":"quantitative","scale":{"domain":[0.21,4.75],"nice":false,"zero":false,"padding":0}}},"layer":[
        {"mark":"rule","encoding":{"y":{"field":"lo","type":"quantitative","scale":{"domain":[0.03,0.08],"nice":false,"zero":false},"axis":{"title":null,"values":[0.03,0.04,0.05,0.06,0.07,0.08],"labelExpr":"replace(format(datum.value,'.2f'),'0.',',')","minExtent":38}},"y2":{"field":"hi"}}},
        {"transform":[{"fold":["lo","hi"]}],"mark":{"type":"tick","orient":"horizontal","size":13},"encoding":{"y":{"field":"value","type":"quantitative"}}},
        {"mark":"bar","encoding":{"y":{"field":"q1","type":"quantitative"},"y2":{"field":"q3"},"color":{"field":"g","type":"nominal"}}},
        {"mark":{"type":"tick","orient":"horizontal","size":60},"encoding":{"y":{"field":"md","type":"quantitative"}}}
      ]},
      {"data":{"name":"brackets"},"transform":[{"filter":"datum.p=='E2'"}],"layer":[
        {"mark":"rule","encoding":{"x":{"field":"a","type":"quantitative"},"x2":{"field":"b"},"y":{"field":"y","type":"quantitative"}}},
        {"transform":[{"fold":["a","b"]}],"mark":{"type":"tick","orient":"vertical","size":6,"yOffset":3},"encoding":{"x":{"field":"value","type":"quantitative"},"y":{"field":"y","type":"quantitative"}}},
        {"mark":{"type":"text","baseline":"alphabetic","dy":4},"encoding":{"x":{"field":"m","type":"quantitative"},"y":{"field":"y","type":"quantitative"},"text":{"field":"s"}}}
      ]}
    ]},
    {"width":307,"height":197,"layer":[
      {"data":{"name":"boxes"},"transform":[{"filter":"datum.p=='E3'"}],"encoding":{"x":{"field":"i","type":"quantitative","scale":{"domain":[0.21,4.75],"nice":false,"zero":false,"padding":0}}},"layer":[
        {"mark":"rule","encoding":{"y":{"field":"lo","type":"quantitative","scale":{"domain":[0.02,0.04],"nice":false,"zero":false},"axis":{"title":null,"values":[0.02,0.024,0.028,0.032,0.036,0.04],"labelExpr":"replace(format(datum.value,'.3f'),'0.',',')","minExtent":52}},"y2":{"field":"hi"}}},
        {"transform":[{"fold":["lo","hi"]}],"mark":{"type":"tick","orient":"horizontal","size":13},"encoding":{"y":{"field":"value","type":"quantitative"}}},
        {"mark":"bar","encoding":{"y":{"field":"q1","type":"quantitative"},"y2":{"field":"q3"},"color":{"field":"g","type":"nominal"}}},
        {"mark":{"type":"tick","orient":"horizontal","size":60},"encoding":{"y":{"field":"md","type":"quantitative"}}}
      ]},
      {"data":{"name":"brackets"},"transform":[{"filter":"datum.p=='E3'"}],"layer":[
        {"mark":"rule","encoding":{"x":{"field":"a","type":"quantitative"},"x2":{"field":"b"},"y":{"field":"y","type":"quantitative"}}},
        {"transform":[{"fold":["a","b"]}],"mark":{"type":"tick","orient":"vertical","size":6,"yOffset":3},"encoding":{"x":{"field":"value","type":"quantitative"},"y":{"field":"y","type":"quantitative"}}},
        {"mark":{"type":"text","baseline":"alphabetic","dy":4},"encoding":{"x":{"field":"m","type":"quantitative"},"y":{"field":"y","type":"quantitative"},"text":{"field":"s"}}}
      ]}
    ]},
    {"width":35,"height":197,"view":{"stroke":null},"data":{"name":"groups"},"encoding":{"y":{"field":"g","type":"nominal","scale":{"type":"point","domain":["REC","REO","UOT","AOT"],"range":[64,141],"padding":0},"axis":null}},"layer":[
      {"mark":{"type":"square","size":361,"stroke":"#333333","strokeWidth":1.5},"encoding":{"color":{"field":"g","type":"nominal"}}},
      {"mark":{"type":"circle","size":85,"color":"#0000e0"}},
      {"mark":{"type":"text","align":"left","baseline":"middle","dx":22,"fontSize":18},"encoding":{"text":{"field":"g"}}}
    ]},

    {"width":307,"height":197,"layer":[
      {"data":{"name":"boxes"},"transform":[{"filter":"datum.p=='F1'"}],"encoding":{"x":{"field":"i","type":"quantitative","scale":{"domain":[0.21,4.75],"nice":false,"zero":false,"padding":0}}},"layer":[
        {"mark":"rule","encoding":{"y":{"field":"lo","type":"quantitative","scale":{"domain":[0.22,0.26],"nice":false,"zero":false},"axis":{"title":null,"values":[0.22,0.23,0.24,0.25,0.26],"labelExpr":"replace(format(datum.value,'.2f'),'0.',',')"}},"y2":{"field":"hi"}}},
        {"transform":[{"fold":["lo","hi"]}],"mark":{"type":"tick","orient":"horizontal","size":13},"encoding":{"y":{"field":"value","type":"quantitative"}}},
        {"mark":"bar","encoding":{"y":{"field":"q1","type":"quantitative"},"y2":{"field":"q3"},"color":{"field":"g","type":"nominal"}}},
        {"mark":{"type":"tick","orient":"horizontal","size":60},"encoding":{"y":{"field":"md","type":"quantitative"}}}
      ]},
      {"data":{"name":"brackets"},"transform":[{"filter":"datum.p=='F1'"}],"layer":[
        {"mark":"rule","encoding":{"x":{"field":"a","type":"quantitative"},"x2":{"field":"b"},"y":{"field":"y","type":"quantitative"}}},
        {"transform":[{"fold":["a","b"]}],"mark":{"type":"tick","orient":"vertical","size":6,"yOffset":3},"encoding":{"x":{"field":"value","type":"quantitative"},"y":{"field":"y","type":"quantitative"}}},
        {"mark":{"type":"text","baseline":"alphabetic","dy":4},"encoding":{"x":{"field":"m","type":"quantitative"},"y":{"field":"y","type":"quantitative"},"text":{"field":"s"}}}
      ]},
      {"data":{"name":"rowlabels"},"transform":[{"filter":"datum.p=='F'"}],"encoding":{"x":{"datum":-1.06},"y":{"datum":0.2354}},"layer":[
        {"mark":{"type":"text","font":"Lato","fontStyle":"italic","fontSize":25,"align":"left","baseline":"alphabetic"},"encoding":{"text":{"field":"main"}}},
        {"mark":{"type":"text","font":"Lato","fontStyle":"italic","fontSize":18,"align":"left","baseline":"alphabetic","dx":16,"dy":8},"encoding":{"text":{"field":"sub"}}}
      ]}
    ]},
    {"width":307,"height":197,"layer":[
      {"data":{"name":"boxes"},"transform":[{"filter":"datum.p=='F2'"}],"encoding":{"x":{"field":"i","type":"quantitative","scale":{"domain":[0.21,4.75],"nice":false,"zero":false,"padding":0}}},"layer":[
        {"mark":"rule","encoding":{"y":{"field":"lo","type":"quantitative","scale":{"domain":[0.02,0.03],"nice":false,"zero":false},"axis":{"title":null,"values":[0.02,0.022,0.024,0.026,0.028,0.03],"labelExpr":"replace(format(datum.value,'.3f'),'0.',',')","minExtent":38}},"y2":{"field":"hi"}}},
        {"transform":[{"fold":["lo","hi"]}],"mark":{"type":"tick","orient":"horizontal","size":13},"encoding":{"y":{"field":"value","type":"quantitative"}}},
        {"mark":"bar","encoding":{"y":{"field":"q1","type":"quantitative"},"y2":{"field":"q3"},"color":{"field":"g","type":"nominal"}}},
        {"mark":{"type":"tick","orient":"horizontal","size":60},"encoding":{"y":{"field":"md","type":"quantitative"}}}
      ]},
      {"data":{"name":"brackets"},"transform":[{"filter":"datum.p=='F2'"}],"layer":[
        {"mark":"rule","encoding":{"x":{"field":"a","type":"quantitative"},"x2":{"field":"b"},"y":{"field":"y","type":"quantitative"}}},
        {"transform":[{"fold":["a","b"]}],"mark":{"type":"tick","orient":"vertical","size":6,"yOffset":3},"encoding":{"x":{"field":"value","type":"quantitative"},"y":{"field":"y","type":"quantitative"}}},
        {"mark":{"type":"text","baseline":"alphabetic","dy":4},"encoding":{"x":{"field":"m","type":"quantitative"},"y":{"field":"y","type":"quantitative"},"text":{"field":"s"}}}
      ]}
    ]},
    {"width":307,"height":197,"layer":[
      {"data":{"name":"boxes"},"transform":[{"filter":"datum.p=='F3'"}],"encoding":{"x":{"field":"i","type":"quantitative","scale":{"domain":[0.21,4.75],"nice":false,"zero":false,"padding":0}}},"layer":[
        {"mark":"rule","encoding":{"y":{"field":"lo","type":"quantitative","scale":{"domain":[0.0078,0.0128],"nice":false,"zero":false},"axis":{"title":null,"values":[0.0078,0.0088,0.0098,0.0108,0.0118,0.0128],"labelExpr":"replace(format(datum.value,'.4f'),'0.',',')","minExtent":52}},"y2":{"field":"hi"}}},
        {"transform":[{"fold":["lo","hi"]}],"mark":{"type":"tick","orient":"horizontal","size":13},"encoding":{"y":{"field":"value","type":"quantitative"}}},
        {"mark":"bar","encoding":{"y":{"field":"q1","type":"quantitative"},"y2":{"field":"q3"},"color":{"field":"g","type":"nominal"}}},
        {"mark":{"type":"tick","orient":"horizontal","size":60},"encoding":{"y":{"field":"md","type":"quantitative"}}}
      ]}
    ]},
    {"width":35,"height":197,"view":{"stroke":null},"data":{"name":"groups"},"encoding":{"y":{"field":"g","type":"nominal","scale":{"type":"point","domain":["REC","REO","UOT","AOT"],"range":[64,141],"padding":0},"axis":null}},"layer":[
      {"mark":{"type":"square","size":361,"stroke":"#333333","strokeWidth":1.5},"encoding":{"color":{"field":"g","type":"nominal"}}},
      {"mark":{"type":"circle","size":85,"color":"#0000e0"}},
      {"mark":{"type":"text","align":"left","baseline":"middle","dx":22,"fontSize":18},"encoding":{"text":{"field":"g"}}}
    ]}
  ],
  "config": {
    "view": {"stroke": "black", "strokeWidth": 2},
    "axisX": {"disable": true},
    "axisY": {"grid": false, "domain": false, "tickColor": "black", "tickSize": 4, "tickWidth": 1.5, "tickCount": 20, "labelFont": "Liberation Sans", "labelFontSize": 16, "labelColor": "black", "labelPadding": 2, "labelOverlap": false},
    "legend": {"disable": true},
    "mark": {"opacity": 1},
    "bar": {"stroke": "black", "strokeWidth": 2, "continuousBandSize": 60, "opacity": 1},
    "rule": {"color": "black", "strokeWidth": 2},
    "tick": {"color": "black", "thickness": 2, "opacity": 1},
    "square": {"opacity": 1},
    "circle": {"opacity": 1},
    "text": {"font": "Liberation Sans", "fontSize": 17, "color": "black"},
    "range": {"category": ["#d4d400", "#8888ff", "#00ff00", "#ff0000"]},
    "title": {"font": "Lato", "fontSize": 26, "fontWeight": "normal", "color": "black", "frame": "group", "offset": 24}
  }
}
